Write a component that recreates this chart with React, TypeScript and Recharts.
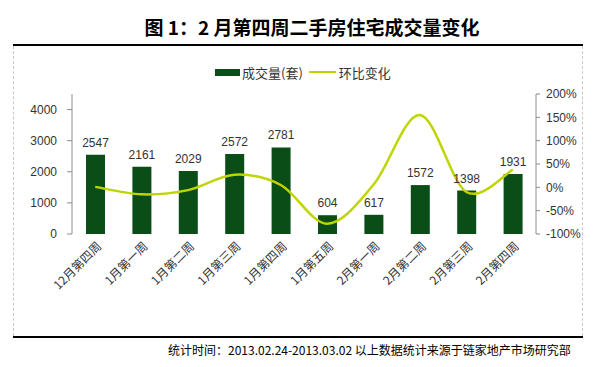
import React from "react";
import { ComposedChart, Bar, Line, XAxis, YAxis, LabelList, Legend } from "recharts";

const categories = ["12月第四周", "1月第一周", "1月第二周", "1月第三周", "1月第四周", "1月第五周", "2月第一周", "2月第二周", "2月第三周", "2月第四周"];
const volume = [2547, 2161, 2029, 2572, 2781, 604, 617, 1572, 1398, 1931];
const changePct = [1, -15, -6, 27, 5, -78, 6, 155, -10, 38];
const leftTicks = [0, 1000, 2000, 3000, 4000];
const rightTicks = [-100, -50, 0, 50, 100, 150, 200];
const boundaryTicks = [0, 1, 2, 3, 4, 5, 6, 7, 8, 9, 10];

const data = categories.map((c, i) => ({ name: c, volume: volume[i], pct: changePct[i] }));

const BAR_COLOR = "#0b4d17";
const LINE_COLOR = "#bfd500";
const AXIS_COLOR = "#8c8c8c";
const TEXT_COLOR = "#333333";

// Catmull-Rom style smoothing (similar to Excel smoothed lines)
function smoothCurve(context: any) {
  let pts: number[][] = [];
  return {
    areaStart() {},
    areaEnd() {},
    lineStart() {
      pts = [];
    },
    lineEnd() {
      if (!pts.length) return;
      context.moveTo(pts[0][0], pts[0][1]);
      for (let i = 0; i < pts.length - 1; i++) {
        const p0 = pts[i - 1] || pts[i];
        const p1 = pts[i];
        const p2 = pts[i + 1];
        const p3 = pts[i + 2] || p2;
        context.bezierCurveTo(
          p1[0] + (p2[0] - p0[0]) / 6,
          p1[1] + (p2[1] - p0[1]) / 6,
          p2[0] - (p3[0] - p1[0]) / 6,
          p2[1] - (p3[1] - p1[1]) / 6,
          p2[0],
          p2[1]
        );
      }
    },
    point(x: number, y: number) {
      pts.push([+x, +y]);
    },
  };
}

const XTick = (props: any) => {
  const { x, y, payload } = props;
  return (
    <g transform={`translate(${x + 4},${y + 8})`}>
      <text
        transform="rotate(-45)"
        textAnchor="end"
        x={0}
        y={0}
        dy="0.35em"
        fontSize={12}
        fill={TEXT_COLOR}
        fontFamily="'Noto Sans CJK SC', sans-serif"
      >
        {payload.value}
      </text>
    </g>
  );
};

const LegendContent = () => (
  <div
    style={{
      display: "flex",
      alignItems: "center",
      justifyContent: "flex-start",
      fontFamily: "'Noto Sans CJK SC', sans-serif",
      fontSize: 13,
      color: TEXT_COLOR,
      paddingLeft: 215,
      height: 18,
    }}
  >
    <span style={{ display: "inline-block", width: 25, height: 7, background: BAR_COLOR, marginRight: 2 }} />
    <span>成交量(套)</span>
    <span style={{ display: "inline-block", width: 27, height: 2, background: LINE_COLOR, marginLeft: 6, marginRight: 3 }} />
    <span>环比变化</span>
  </div>
);

export default function App() {
  return (
    <div style={{ position: "absolute", left: 0, top: 0, width: 601, height: 367, background: "#fff", overflow: "hidden" }}>
      <div
        style={{
          position: "absolute",
          left: 112,
          width: 400,
          top: 14,
          textAlign: "center",
          fontFamily: "'Noto Sans CJK SC', sans-serif",
          fontWeight: 700,
          fontSize: 19,
          lineHeight: "26px",
          color: "#000",
        }}
      >
        图 1：2 月第四周二手房住宅成交量变化
      </div>
      <div style={{ position: "absolute", left: 13, top: 44, width: 570, height: 2, background: "#000" }} />
      <div style={{ position: "absolute", left: 13, top: 336, width: 570, height: 2, background: "#000" }} />
      <div style={{ position: "absolute", left: 13, top: 46, width: 0, height: 290, borderLeft: "1px dashed #c8c8c8" }} />
      <div style={{ position: "absolute", left: 582, top: 46, width: 0, height: 290, borderLeft: "1px dashed #c8c8c8" }} />
      <div style={{ position: "absolute", left: 0, top: 0 }}>
        <ComposedChart width={601} height={367} data={data} margin={{ top: 94, right: 30, bottom: 63, left: 20 }}>
          <XAxis
            xAxisId="grid"
            type="number"
            domain={[0, 10]}
            ticks={boundaryTicks}
            allowDataOverflow
            tick={false}
            height={0}
            tickSize={5}
            stroke={AXIS_COLOR}
            axisLine={{ stroke: AXIS_COLOR }}
            tickLine={{ stroke: AXIS_COLOR }}
          />
          <XAxis
            xAxisId="cat"
            dataKey="name"
            type="category"
            interval={0}
            axisLine={false}
            tickLine={false}
            tickSize={0}
            height={70}
            tick={<XTick />}
          />
          <YAxis
            yAxisId="left"
            orientation="left"
            domain={[0, 4500]}
            ticks={leftTicks}
            width={52}
            tickSize={5}
            tickMargin={10}
            stroke={AXIS_COLOR}
            tick={{ fill: TEXT_COLOR, fontSize: 12, fontFamily: "'Liberation Sans', Arial, sans-serif" }}
            allowDataOverflow
          />
          <YAxis
            yAxisId="right"
            orientation="right"
            domain={[-100, 200]}
            ticks={rightTicks}
            width={35}
            tickSize={4}
            tickMargin={6}
            stroke={AXIS_COLOR}
            tickFormatter={(v: number) => `${v}%`}
            tick={{ fill: TEXT_COLOR, fontSize: 12, fontFamily: "'Liberation Sans', Arial, sans-serif" }}
            allowDataOverflow
          />
          <Legend
            layout="horizontal"
            verticalAlign="middle"
            align="center"
            wrapperStyle={{ top: 63, left: 0, width: 601 }}
            content={<LegendContent />}
          />
          <Bar dataKey="volume" name="成交量(套)" xAxisId="cat" yAxisId="left" fill={BAR_COLOR} barSize={19} isAnimationActive={false}>
            <LabelList
              dataKey="volume"
              position="top"
              offset={8}
              fill={TEXT_COLOR}
              fontSize={12}
              fontFamily="'Liberation Sans', Arial, sans-serif"
            />
          </Bar>
          <Line
            dataKey="pct"
            name="环比变化"
            xAxisId="cat"
            yAxisId="right"
            type={smoothCurve as any}
            stroke={LINE_COLOR}
            strokeWidth={2.5}
            dot={false}
            activeDot={false}
            isAnimationActive={false}
          />
        </ComposedChart>
      </div>
      <div
        style={{
          position: "absolute",
          left: 168,
          top: 342,
          fontFamily: "'Noto Sans CJK SC', sans-serif",
          fontSize: 12,
          lineHeight: "16px",
          color: "#000",
          whiteSpace: "nowrap",
        }}
      >
        统计时间：2013.02.24-2013.03.02 以上数据统计来源于链家地产市场研究部
      </div>
    </div>
  );
}
